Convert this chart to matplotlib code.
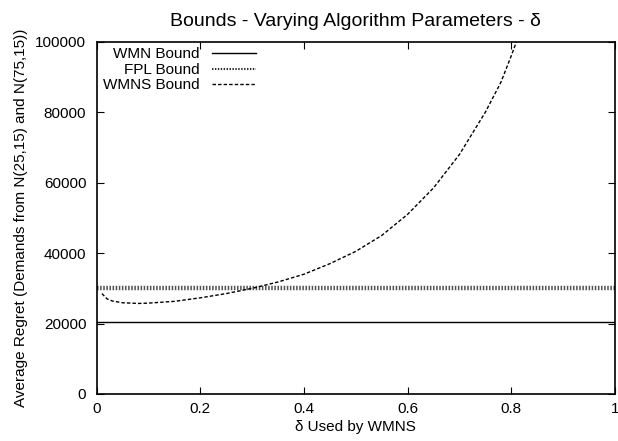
import numpy as np
import matplotlib
matplotlib.use('Agg')
import matplotlib.pyplot as plt
from matplotlib.lines import Line2D

plt.rcParams['font.family'] = ['Liberation Sans', 'DejaVu Sans']
plt.rcParams['font.size'] = 11

# data
delta = [0.01, 0.02, 0.03, 0.05, 0.08, 0.1, 0.15, 0.2, 0.25, 0.3, 0.35, 0.4, 0.45,
         0.5, 0.55, 0.6, 0.65, 0.7, 0.75, 0.78, 0.8, 0.815]
wmns = [28500, 27000, 26400, 25900, 25700, 25800, 26300, 27300, 28500, 30000, 31800,
        34000, 37000, 40500, 45000, 51000, 58500, 68000, 80000, 88500, 96000, 102000]
wmn_level = 20400
fpl_level = 30100

fig = plt.figure(figsize=(6.18, 4.41), dpi=100)
ax = fig.add_axes([0.1565, 0.1066, 0.8385, 0.7988])

ax.plot([0, 1], [wmn_level, wmn_level], color='black', lw=1.0)
ax.plot([0, 1], [fpl_level, fpl_level], color='#555555', lw=3.2,
        linestyle=(0, (0.35, 0.35)))
ax.plot(delta, wmns, color='black', lw=1.0, linestyle=(0, (2.5, 1.5)))

ax.set_xlim(0, 1)
ax.set_ylim(0, 100000)
ax.set_xticks([0, 0.2, 0.4, 0.6, 0.8, 1])
ax.set_xticklabels(['0', '0.2', '0.4', '0.6', '0.8', '1'])
ax.set_yticks(np.arange(0, 100001, 20000))
ax.tick_params(direction='in', top=True, right=True, length=5, width=0.8)
ax.tick_params(axis='x', pad=6)
ax.tick_params(axis='y', pad=7.5)
for s in ax.spines.values():
    s.set_linewidth(1.2)

ax.set_title('Bounds - Varying Algorithm Parameters - δ', fontsize=14, pad=11)
ax.set_xlabel('δ Used by WMNS', labelpad=3)
ax.set_ylabel('Average Regret (Demands from N(25,15) and N(75,15))', labelpad=5)

handles = [Line2D([], [], color='black', lw=1.0),
           Line2D([], [], color='#333333', lw=1.5, linestyle=(0, (0.7, 0.7))),
           Line2D([], [], color='black', lw=1.0, linestyle=(0, (2.5, 1.5)))]
labels = ['WMN Bound', 'FPL Bound', 'WMNS Bound']
ax.legend(handles, labels, loc='upper right', frameon=False, markerfirst=False,
          handlelength=2.9, handletextpad=0.8, borderaxespad=0, borderpad=0,
          labelspacing=0.1, bbox_to_anchor=(0.3074, 0.984))

fig.savefig('out.png', dpi=100)
